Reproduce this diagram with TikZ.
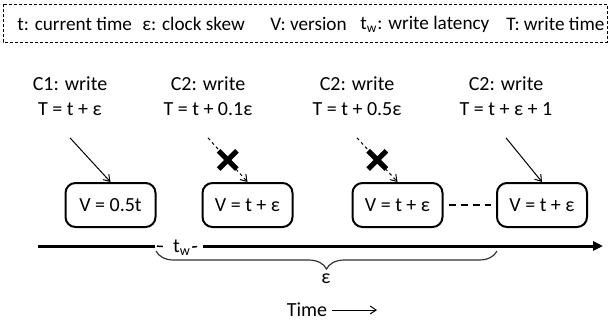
\documentclass[tikz,border=0pt]{standalone}
\usepackage{fontspec}
\setmainfont{Carlito}
\usetikzlibrary{arrows.meta,shapes.misc,decorations.pathreplacing}

\tikzset{
  >={Straight Barb[length=3pt,width=4pt]},
  keyframe/.style={line width=0.5pt, dash pattern=on 1.5pt off 1pt},
  key/.style={anchor=west, inner sep=0pt, font=\fontsize{9.6}{11.5}\selectfont},
  wlabel/.style={align=center, inner xsep=2pt, inner ysep=11pt, font=\fontsize{10}{12.5}\selectfont},
  vbox/.style={draw, line width=1pt, rounded corners=5pt, minimum width=45pt, minimum height=22pt, font=\fontsize{10}{12}\selectfont},
  hit/.style={->, line width=0.5pt},
  lost/.style={->, line width=0.5pt, dash pattern=on 1.5pt off 1.5pt},
  xmark/.style={draw, cross out, line width=2.6pt, minimum size=6.5pt, inner sep=0pt, solid},
  gap/.style={line width=1pt, dash pattern=on 3.5pt off 2.5pt, shorten <=2.5pt, shorten >=2.5pt},
  axis/.style={line width=1.5pt},
  twdash/.style={line width=0.75pt},
  skew/.style={decorate, decoration={brace, mirror, amplitude=9pt}, line width=0.6pt, black!80},
}

\begin{document}
\begin{tikzpicture}[x=0.5pt, y=-0.5pt, font=\fontsize{10}{12}\selectfont]
\useasboundingbox (0,0) rectangle (610,321);

% Legende oben
\draw[keyframe] (3,4) rectangle (607,42);
\node[key] (k1) at (17,24) {t: current time};
\node[key] (k2) at (142,24) {ε: clock skew};
\node[key] (k3) at (270,24) {V: version};
\node[key] (k4) at (360,24) {t\textsubscript{w}: write latency};
\node[key] (k5) at (506,24) {T: write time};

% Schreibzugriffe
\node[wlabel] (w1) at (70,96) {C1: write\\T = t + ε};
\node[wlabel] (w2) at (208,96) {C2: write\\T = t + 0.1ε};
\node[wlabel] (w3) at (357,96) {C2: write\\T = t + 0.5ε};
\node[wlabel] (w4) at (506,96) {C2: write\\T = t + ε + 1};

% Versionen
\node[vbox] (v1) at (110.5,205) {V = 0.5t};
\node[vbox] (v2) at (247.5,205) {V = t + ε};
\node[vbox] (v3) at (397.5,205) {V = t + ε};
\node[vbox] (v4) at (542,205) {V = t + ε};

\draw[hit] (w1.south) -- (v1.north);
\draw[lost] (w2.south) -- node[xmark] (x2) {} (v2.north);
\draw[lost] (w3.south) -- node[xmark] (x3) {} (v3.north);
\draw[hit] (w4.south) -- (v4.north);
\draw[gap] (v3) -- (v4);

% Zeitachse
\coordinate (t0) at (38,246);
\coordinate (t1) at (155,246);
\coordinate (t2) at (203,246);
\coordinate (t3) at (603,246);
\draw[axis] (t0) -- (t1);
\draw[axis, -{Triangle[length=5pt,width=4.5pt]}] (t2) -- (t3);
\node[anchor=base, inner sep=0pt] (tw) at (182,252) {t\textsubscript{w}};
\draw[twdash, shorten <=1pt, shorten >=5pt] (t1) -- (tw.west);
\draw[twdash, shorten <=0.5pt, shorten >=3pt] (tw.east) -- (t2);

% Klammer fuer epsilon
\coordinate (b0) at (156,251);
\coordinate (b1) at (497,251);
\draw[skew] (b0) -- (b1);
\node (eps) at (326,279) {ε};

% Zeitpfeil
\node[inner sep=0pt] (time) at (307,310) {Time};
\coordinate (tend) at (377,310);
\draw[hit, shorten <=2pt] (time) -- (tend);
\end{tikzpicture}
\end{document}
